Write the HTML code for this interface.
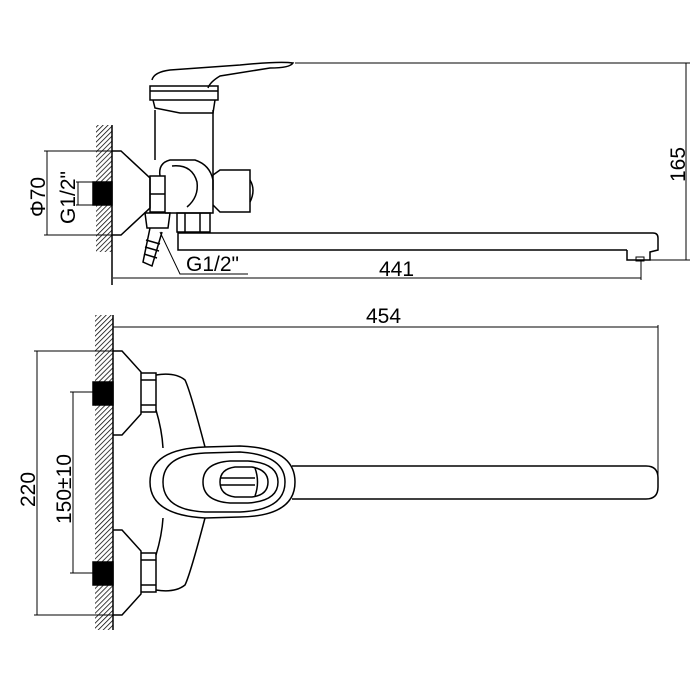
<!DOCTYPE html>
<html><head><meta charset="utf-8"><style>
html,body{margin:0;padding:0;background:#fff;width:700px;height:700px;overflow:hidden}
text{font-family:"Liberation Sans",sans-serif;fill:#000}
</style></head><body>
<svg width="700" height="700" viewBox="0 0 700 700" xmlns="http://www.w3.org/2000/svg">
<defs>
<pattern id="h" width="3.5" height="3.5" patternUnits="userSpaceOnUse" patternTransform="rotate(45)">
<line x1="0" y1="0" x2="0" y2="3.5" stroke="#000" stroke-width="1.5"/>
</pattern>
</defs>
<g fill="none" stroke="#000" stroke-width="1.5">
<!-- TOP VIEW -->
<rect x="96" y="125" width="16" height="127" fill="url(#h)" stroke="none"/>
<line x1="112" y1="125" x2="112" y2="285"/>
<rect x="93" y="182" width="19" height="23" fill="#000"/>
<path d="M112 151 L121 151 L150 178 L150 208 L121 235 L112 235"/>
<path d="M150 176 L165 176 L165 212 L150 212 Z M150 194 L165 194"/>
<path d="M155 110 L155 160 M213 110 L213 190"/>
<path d="M152 80 Q154 72 170 70 L240 65 Q280 61 293 63 Q290 68 270 68 L220 76 Q210 82 208 88"/>
<path d="M150 86 L218 86 L218 100 L150 100 Z M150 91 L218 91"/>
<path d="M153 100 L155 108 L180 113 L213 113 L215 100"/>
<path d="M160 176 Q158 163 170 160 L195 160 Q210 165 213 180 L213 213 L165 213"/>
<path d="M172 166 Q192 164 197 182 Q199 197 187 207"/>
<path d="M213 175 L220 170 L250 170 L250 212 L220 212 L213 205"/>
<path d="M250 180 Q256 190 250 202"/>
<path d="M177 213 L210 213 L210 232 L177 232 Z M185 213 L185 232 M200 213 L200 232"/>
<path d="M145 213 L170 213 L168 228 L147 228 Z"/>
<path d="M150 228 L143 262 L152 266 L162 232"/>
<path d="M146 240 L160 244 M145 247 L159 251 M144 254 L157 258"/>
<path d="M178 232 L178 250 L627 250 M178 233 L653 233 Q658 233 658 238 L658 250 L650 252 L650 260 L627 260 L627 250"/>
<rect x="636" y="257" width="8" height="4" stroke-width="1"/>
<path d="M160 232 L180 274 L248 274" stroke-width="1"/>
<line x1="295" y1="63" x2="690" y2="63" stroke-width="1"/>
<line x1="650" y1="260" x2="690" y2="260" stroke-width="1"/>
<line x1="686" y1="63" x2="686" y2="260" stroke-width="1"/>
<line x1="113" y1="278" x2="641" y2="278" stroke-width="1"/>
<line x1="641" y1="260" x2="641" y2="280" stroke-width="1"/>
<line x1="44" y1="151" x2="112" y2="151" stroke-width="1"/>
<line x1="44" y1="235" x2="112" y2="235" stroke-width="1"/>
<line x1="47" y1="151" x2="47" y2="235" stroke-width="1"/>
<line x1="76" y1="182" x2="93" y2="182" stroke-width="1"/>
<line x1="76" y1="205" x2="93" y2="205" stroke-width="1"/>
<line x1="78" y1="182" x2="78" y2="205" stroke-width="1"/>

<!-- BOTTOM VIEW -->
<rect x="95" y="315" width="18" height="315" fill="url(#h)" stroke="none"/>
<line x1="113" y1="315" x2="113" y2="630"/>
<rect x="93" y="382" width="20" height="23" fill="#000"/>
<rect x="93" y="562" width="20" height="23" fill="#000"/>
<path d="M113 351 L122 351 L141 372 L141 414 L122 435 L113 435"/>
<path d="M113 530 L122 530 L141 551 L141 594 L122 615 L113 615"/>
<path d="M141 373 L156 373 L156 412 L141 412 M141 380 L156 380 M141 405 L156 405"/>
<path d="M141 553 L156 553 L156 592 L141 592 M141 560 L156 560 M141 585 L156 585"/>
<path d="M156 375 Q175 372 185 380 Q190 390 205 447"/>
<path d="M156 410 Q162 430 163 448"/>
<path d="M156 590 Q175 593 185 585 Q190 575 205 518"/>
<path d="M156 555 Q162 535 163 518"/>
<path d="M205 447 L240 446 Q295 448 295 482 Q295 516 240 517 L205 518 Q150 515 150 482 Q150 449 205 447 Z"/>
<path d="M205 453 L240 452 Q285 455 285 482 Q285 510 240 512 L205 512 Q163 510 163 482 Q163 455 205 453 Z"/>
<path d="M230 461 L248 461 Q278 463 278 482 Q278 501 248 503 L230 503 Q203 501 203 482 Q203 463 230 461 Z"/>
<path d="M235 467 L252 467 Q268 470 268 482 Q268 495 252 497 L235 497 Q220 495 220 482 Q220 469 235 467 Z"/>
<path d="M220 478 L255 478 M220 485 L255 485 M255 468 Q260 482 255 496"/>
<path d="M292 466 L646 466 Q658 466 658 478 L658 487 Q658 499 646 499 L292 499"/>
<line x1="113" y1="327" x2="658" y2="327" stroke-width="1"/>
<line x1="658" y1="325" x2="658" y2="480" stroke-width="1"/>
<line x1="34" y1="351" x2="113" y2="351" stroke-width="1"/>
<line x1="34" y1="615" x2="113" y2="615" stroke-width="1"/>
<line x1="37" y1="351" x2="37" y2="615" stroke-width="1"/>
<line x1="70" y1="392" x2="93" y2="392" stroke-width="1"/>
<line x1="70" y1="573" x2="93" y2="573" stroke-width="1"/>
<line x1="73" y1="392" x2="73" y2="573" stroke-width="1"/>
</g>
<text x="379" y="276" font-size="21">441</text>
<text x="366" y="323" font-size="21">454</text>
<text x="186" y="271" font-size="21">G1/2"</text>
<text transform="translate(685,182) rotate(-90)" font-size="21">165</text>
<text transform="translate(45,217) rotate(-90)" font-size="21">Φ70</text>
<text transform="translate(75,224) rotate(-90)" font-size="21">G1/2"</text>
<text transform="translate(35,507) rotate(-90)" font-size="21">220</text>
<text transform="translate(71,524) rotate(-90)" font-size="21">150±10</text>
</svg>
</body></html>
